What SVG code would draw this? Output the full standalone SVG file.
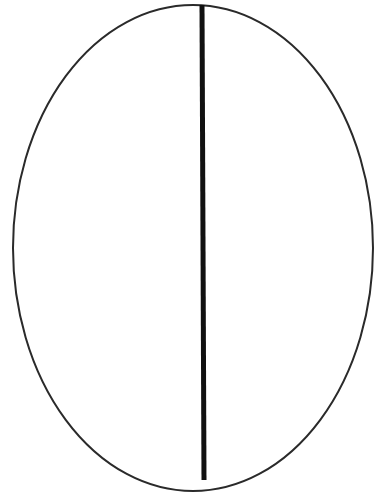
<svg xmlns="http://www.w3.org/2000/svg" width="382" height="495" viewBox="0 0 382 495">
<style>.o{fill:none;stroke:#2a2a2a;stroke-width:2}.l{stroke:#111;stroke-width:5;stroke-linecap:butt}</style>
<rect width="382" height="495" fill="#fff"/>
<g id="ellipse"><ellipse class="o" cx="193" cy="248" rx="180" ry="243"/></g>
<g id="connectors"><line class="l" x1="202" y1="5" x2="204" y2="480"/></g>
</svg>
